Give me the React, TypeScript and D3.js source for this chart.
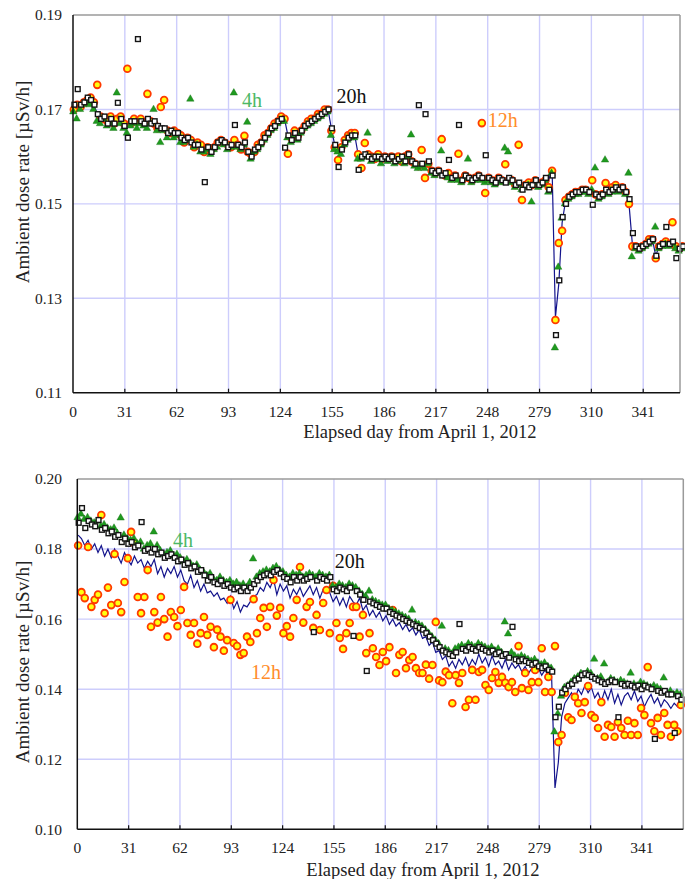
import React from "react";
import * as d3 from "d3";

// Values in nSv/h (divide by 1000 for µSv/h); one value every DAY_STEP days from day 0
const DAY_STEP = 2;
const TICK_DAYS = [0, 31, 62, 93, 124, 155, 186, 217, 248, 279, 310, 341];
const TOP_Y_TICKS = [0.11, 0.13, 0.15, 0.17, 0.19];
const BOT_Y_TICKS = [0.1, 0.12, 0.14, 0.16, 0.18, 0.2];

const topLine = [
  170.5, 171, 170.5, 171.5, 172, 172, 171, 169, 168, 168.5,
  167.5, 168, 167, 168.5, 168, 167, 166, 167.5, 168, 167,
  168, 167.5, 168, 167, 167.5, 166.5, 166, 166.5, 165, 165.5,
  165, 165.5, 164, 163.5, 164, 163, 162.5, 163, 162, 161.5,
  162, 161, 162, 163, 163.5, 163, 162, 162.5, 163, 162.5,
  162, 163, 161, 160, 161.5, 162, 163, 164, 165, 166,
  166.5, 167.5, 168, 168, 164.5, 163.5, 165, 164, 165.5, 166.5,
  167, 167.5, 168, 168.5, 169, 169.5, 170, 166, 162.5, 162,
  161.5, 163, 164, 164.5, 164.5, 160.5, 160, 160.5, 160, 159.5,
  160, 160, 159.5, 160, 159.5, 160, 159, 159.5, 160, 159,
  160.5, 159, 158.5, 158, 158.5, 158, 159, 157, 156.5, 157,
  156, 156.5, 156, 155.5, 156, 155.5, 155, 156, 155.5, 155,
  155.5, 156, 155.5, 155, 155.5, 155, 154.5, 155.5, 155, 154.5,
  155.5, 155, 154, 154.5, 153.5, 154, 154.5, 154, 155, 154,
  154.5, 155.5, 155, 157.5, 126, 133, 146, 150.5, 151.5, 152,
  152.5, 152.5, 153, 153, 152.5, 153, 152, 151.5, 152, 153,
  152.5, 153, 153.5, 153, 153.5, 152.5, 150, 141.5, 141, 140.5,
  141, 141.5, 142, 142.5, 139, 141, 141.5, 142, 141.5, 142,
  141, 140.5, 141,
];
const top4h = [
  169.5, 168, 170, 171, 171.5, 171, 170, 167.5, 167, 168,
  166.5, 167, 166, 173.5, 167, 166, 165, 166.5, 167, 166,
  167, 166.5, 166, 167, 170, 165.5, 163, 165.5, 164, 165,
  164, 164.5, 163, 163, 163.5, 172.2, 162, 162.5, 161, 161,
  161.5, 160.5, 161.5, 162, 163, 162.5, 161.5, 162, 173.5, 162,
  161.5, 162.5, 167.3, 159.5, 161, 161.5, 162.5, 163.5, 164.5, 165.5,
  166, 167, 167.5, 167.5, 164, 163, 164.5, 163.5, 165, 166,
  166.5, 167, 167.5, 168, 168.5, 169, 169.5, 164.5, 161.5, 161,
  160.5, 162.5, 163.5, 164, 164, 159.5, 159.5, 160, 165, 159,
  159.5, 159.5, 158.5, 159.5, 159, 159.5, 158.5, 159, 159.5, 158.5,
  160, 164.6, 158, 157.5, 158, 157.5, 158.5, 156.5, 156, 156.5,
  161.2, 156, 155.5, 155, 155.5, 155, 154.5, 155.5, 159.5, 154.5,
  155, 155.5, 155, 154.5, 155, 154.5, 154, 155, 154.5, 161.8,
  161, 154.5, 153.5, 154, 153, 153.5, 154, 150.4, 154.5, 153.5,
  154, 155, 152.5, 156.5, 119.5, 136.6, 147, 150, 151, 151.5,
  152, 152, 152.5, 152.5, 152, 153, 157.6, 151, 151.5, 159.3,
  152, 152.5, 153, 152.5, 153, 152, 156.5, 138.8, 140.5, 140,
  140.5, 141, 141.5, 142, 145.1, 140.5, 141, 141.5, 141, 141.5,
  140.5, 140, 140.5,
];
const top12h = [
  170, 171, 170.5, 171.5, 172, 172.5, 171.5, 175.2, 168.5, 168,
  167.5, 168.5, 167, 168, 168.5, 167, 178.6, 167, 168, 167.5,
  168, 167, 173.3, 167.5, 167, 166, 170.5, 172, 165.5, 165,
  165.5, 165, 164.5, 163, 164, 163.5, 162, 163, 162.5, 161,
  162, 161.5, 162, 163, 163.5, 163, 162.5, 162, 163.5, 162.5,
  161.5, 164.4, 161, 160.5, 161, 162.5, 163, 164.5, 165, 166,
  167, 167.5, 168.5, 168, 160.6, 164, 165.5, 164.5, 165.5, 166.5,
  167.5, 168, 168, 169, 169, 170, 170, 165.5, 162, 159.3,
  162, 163.5, 164.5, 165, 165, 160.5, 157.6, 162.9, 160.5, 160,
  159.5, 160.5, 159.5, 160, 159.5, 160, 159.5, 160, 159, 160,
  160.5, 159, 158.5, 158, 161.4, 155.5, 158.5, 157, 156.5, 157,
  163.7, 156, 156.5, 155.5, 156, 160.6, 155, 156, 155.5, 155,
  155.5, 156, 167.1, 152.3, 155.5, 155, 154.5, 155.5, 155, 158.4,
  155, 155, 154, 162.5, 150.8, 154, 154.5, 154, 155, 154,
  154.5, 155, 153.5, 157, 125.4, 141.7, 144.3, 150.8, 151.5, 152,
  152.5, 152.5, 153, 153, 152.5, 155, 152, 151.5, 152, 154.4,
  152.5, 153.5, 154, 153, 153.5, 152.5, 150, 141, 141, 140.5,
  141, 141.5, 142.5, 142.5, 138.5, 141, 141.5, 142, 141.5, 146.1,
  141, 140.5, 141,
];
const top20h = [
  171, 174.3, 171, 171.5, 172.5, 172, 171, 169, 168, 168.5,
  167, 168, 167, 171.4, 168, 166.5, 164, 167.5, 167.5, 184.9,
  167.5, 167, 168, 167, 167.5, 166.5, 166, 166, 165, 165.5,
  165, 165, 164, 163.5, 164, 163, 162.5, 162.5, 161.5, 154.6,
  162, 161, 162, 163, 163.5, 163, 162, 162.5, 166.7, 162.5,
  162, 163, 161, 160, 161.5, 162, 163, 164, 165, 166,
  166.5, 167.5, 168, 161.9, 164.5, 163.5, 165, 164, 165.5, 166.5,
  167, 167.5, 168, 168.5, 169, 169.5, 170, 166, 162.5, 157.8,
  161.5, 163, 164, 164.5, 164.5, 157.2, 160, 160.5, 160, 159.5,
  160, 160, 159.5, 160, 159.5, 160, 159, 159.5, 160, 159,
  160.5, 159, 158.5, 170.9, 158.5, 169, 159, 157, 156.5, 157,
  156, 156.5, 159.3, 155.5, 156, 166.7, 155, 156, 155.5, 155,
  155.5, 156, 155.5, 160.3, 155.5, 155, 154.5, 155.5, 155, 154.5,
  155.5, 155, 154, 154.5, 153, 154, 153.5, 154, 155, 154,
  154.5, 155.5, 153, 156, 122.2, 133.8, 147.2, 150, 151.5, 152,
  152.5, 152.5, 153, 153, 152.5, 149.8, 152, 151.5, 152, 153,
  152.5, 153, 153.5, 153, 153.5, 152.5, 151, 143.8, 141, 140.5,
  141, 141.5, 142, 142.5, 139, 141, 141.5, 145.1, 141.5, 142,
  138.5, 140.5, 141,
];

const botLine = [
  184, 183, 181, 182.5, 180, 181.5, 179, 181, 178, 180,
  177.5, 180, 178, 176, 179, 177, 175.5, 178, 176, 177,
  174.5, 176.5, 175, 177, 173, 175, 172, 174.5, 173, 175,
  172, 174, 171, 170, 172.5, 169, 171, 168, 170, 167.5,
  168, 166.5, 167.5, 165.5, 166, 164.5, 166.5, 163, 165, 162,
  164, 163.5, 165, 166.5, 167, 169, 168, 170.5, 169, 171.5,
  167, 170, 168, 169.5, 166, 168.5, 167, 169, 166.5, 168,
  169.5, 167, 169, 166, 168.5, 169, 167.5, 165, 166.5, 164,
  166, 163.5, 166.5, 165, 164, 166, 162.5, 164, 161, 162.5,
  160.5, 162, 159.5, 161, 158.5, 160, 158, 159, 157, 158.5,
  156.5, 157.5, 155.5, 157, 154.5, 155, 152.5, 153.5, 150.5, 151,
  148.5, 149.5, 146.5, 148, 146, 148.5, 147, 149, 146.5, 148.5,
  147, 150, 147.5, 149, 146.5, 149.5, 147, 148, 146, 148.5,
  145.5, 147.5, 146, 147, 145, 146.5, 144.5, 146, 145, 146,
  144, 145.5, 144, 143, 111.8, 119, 132, 136, 137.5, 139,
  137, 140, 138.5, 141, 139, 140.5, 137.5, 139, 136.5, 139.5,
  137, 140, 136, 138.5, 135.5, 138, 139, 137, 139.5, 136.5,
  138, 135, 137, 138.5, 136, 137.5, 135, 137, 136, 134.5,
  136, 135, 136.5,
];
const bot4h = [
  189, 190, 188.5, 189, 188, 187.5, 188, 186.5, 187, 186,
  185.5, 186, 184.5, 188.9, 184, 183, 182.5, 183, 181.5, 182,
  180, 181, 181.5, 184.9, 181, 179.5, 178.5, 179, 179.5, 178,
  178.5, 177.5, 176.5, 177, 176, 175, 175.5, 174, 173.5, 172.5,
  173, 171.5, 171, 172, 171, 170.5, 171, 170, 170.5, 169.5,
  170, 169, 170.5, 177.2, 172, 173, 173.5, 174, 173.5, 174.5,
  175, 174, 173.5, 172.5, 172, 173, 172.5, 173, 172, 172.5,
  173, 172.5, 172, 173, 172.5, 172, 172.5, 169.5, 169, 170,
  169.5, 169, 170, 169.5, 169, 168, 167, 166.5, 168, 165.5,
  165, 164.5, 164, 164, 163, 162.5, 162, 161.5, 161, 160.5,
  160, 162.6, 159, 158.5, 158, 157, 156, 155, 154, 153,
  158, 151.5, 151, 150, 151.5, 152, 152.5, 152, 153, 152.5,
  152, 153, 152.5, 152, 151.5, 152, 151, 151.5, 150.5, 159.2,
  155.8, 150.5, 149.5, 149, 149.5, 149, 148.5, 148, 148.5, 147.5,
  147, 147.5, 146.5, 146, 127.8, 133, 138, 140.5, 141, 142,
  143, 143.5, 144.5, 144, 145, 144.5, 148.6, 143, 143.5, 147.2,
  142, 143, 142.5, 142, 142.5, 142, 141.5, 144.6, 141.5, 141,
  142, 141.5, 141, 140.5, 141, 140.5, 140, 143.2, 139, 139.5,
  138.5, 139, 138.5,
];
const bot12h = [
  181, 167.7, 166, 180.6, 163.5, 165.5, 167, 189.7, 161.7, 169,
  164, 178.6, 164.6, 162, 170.6, 177.4, 184.9, 181.7, 166.3, 161.7,
  166.3, 174, 157.8, 162, 159, 166.3, 160, 155, 162, 160.6,
  158, 162.6, 169.2, 158.9, 155.5, 158.9, 153, 156, 160.6, 155.5,
  157.8, 152, 157, 155, 151, 154, 165.5, 153.2, 152.3, 149.8,
  150.3, 155, 153.5, 165.7, 156, 160.3, 163.2, 157.8, 163.5, 171.2,
  161, 163.2, 156, 158, 155, 160.3, 165.5, 174.9, 159, 163.5,
  164.9, 157.5, 161.2, 156.9, 164.6, 168.3, 156, 169.5, 158.9, 154.6,
  151.5, 156, 158.9, 163.5, 163.5, 155, 161.2, 150.3, 156, 151.7,
  149.2, 146.9, 150.6, 148, 152, 162.6, 144.6, 149.8, 150.6, 146,
  148.3, 149.2, 146, 144.6, 144.6, 147, 143, 146.9, 159.2, 142.5,
  142, 145, 144, 136, 144, 141.8, 144.6, 134.9, 137, 145.5,
  137, 144.9, 145.5, 141.2, 139.8, 143.2, 144.9, 141.8, 143.5, 141.8,
  140.6, 142, 139.2, 152.3, 140.3, 144.6, 139.8, 142, 145.5, 142,
  151.7, 139.2, 143.5, 139.2, 152.3, 124.9, 126.9, 138.9, 132, 131.2,
  137.8, 136, 133.2, 136.3, 140.9, 132.6, 131.8, 128.9, 136.3, 126.4,
  129.8, 129.2, 126.4, 130.6, 128.9, 126.9, 131, 126.9, 130.3, 126.9,
  134.6, 132.6, 146.3, 130.3, 128, 131.8, 126.9, 133.2, 129.8, 126.4,
  129.8, 128, 135.5,
];
const bot20h = [
  187.5, 191.7, 186, 188, 187, 186.5, 188.3, 185.5, 186, 184.5,
  185, 183.5, 184, 182, 183, 181.5, 182, 180.5, 181, 187.7,
  179.5, 180, 179, 180, 178.5, 179, 177.5, 178, 178.5, 177.5,
  176.5, 177, 175.5, 176, 174.5, 175, 173.5, 174, 172.5, 171,
  172, 170.5, 170, 171, 169.5, 170, 169, 168.5, 169, 168,
  169, 168, 169, 170, 171, 172, 172.5, 173, 172.5, 173.5,
  174, 173, 172, 171.5, 170.5, 172, 171, 172, 171, 171.5,
  172, 156.3, 171, 172, 171.5, 171, 172, 168.5, 168, 169,
  168.5, 168, 169, 155.2, 168, 167, 165.5, 145.2, 165, 164.5,
  164, 163.5, 163, 163, 162, 161.5, 161, 160.5, 160, 159.5,
  159, 158.5, 158, 157.5, 157, 156, 155, 154, 153, 152,
  151, 150.5, 150, 149.5, 150.5, 158.6, 151.5, 151, 152, 151.5,
  151, 152, 151.5, 151, 150.5, 151, 150, 150.5, 149.5, 150,
  149, 157.8, 148.5, 148, 148.5, 148, 147.5, 147, 147.5, 146.5,
  146, 146.5, 145.5, 145, 132, 135, 139, 140, 141, 141.5,
  142.5, 143, 144, 144.5, 144, 143.5, 143, 142.5, 142, 141.5,
  142, 142.5, 142, 132, 141.5, 141, 141.5, 141, 140.5, 141,
  140, 141, 140.5, 140, 125.8, 139.5, 139, 139.5, 138.5, 138.5,
  127.5, 138, 137,
];

const FONT = "Liberation Serif, DejaVu Serif, Times New Roman, serif";
const fmt = d3.format(".2f");

type Ann = { text: string; day: number; value: number; color: string };

type PanelProps = {
  left: number; right: number; top: number; bottom: number;
  xMax: number; yDomain: [number, number]; yTicks: number[];
  line: number[]; s4: number[]; s12: number[]; s20: number[];
  anns: Ann[]; yTitleCenter: number; xTitleY: number; xTitleX: number;
};

function Panel(p: PanelProps) {
  const x = d3.scaleLinear().domain([0, p.xMax]).range([p.left, p.right]);
  const y = d3.scaleLinear().domain(p.yDomain).range([p.bottom, p.top]);
  const v = (n: number) => n / 1000;
  const lineGen = d3
    .line<number>()
    .x((_, i) => x(i * DAY_STEP + 0.5))
    .y((d) => y(v(d)));
  const tri = d3.symbol(d3.symbolTriangle, 24)() as string;
  const grid = "#cdcdfc";
  const txt = { fontFamily: FONT };
  return (
    <g>
      {TICK_DAYS.filter((d) => d > 0).map((d) => (
        <line key={"gx" + d} x1={x(d)} x2={x(d)} y1={p.top} y2={p.bottom} stroke={grid} strokeWidth={1.4} />
      ))}
      {p.yTicks.slice(1, -1).map((t) => (
        <line key={"gy" + t} x1={p.left} x2={p.right} y1={y(t)} y2={y(t)} stroke={grid} strokeWidth={1.4} />
      ))}
      <path d={lineGen(p.line) || ""} fill="none" stroke="#14148c" strokeWidth={1.2} />
      {p.s12.map((d, i) => (
        <circle key={"c" + i} cx={x(i * DAY_STEP + 0.5)} cy={y(v(d))} r={3.4} fill="#ffff10" stroke="#ff3a00" strokeWidth={1.8} />
      ))}
      {p.s4.map((d, i) => (
        <path key={"t" + i} d={tri} transform={`translate(${x(i * DAY_STEP + 0.17)},${y(v(d))})`} fill="#1f9a1f" stroke="#127012" strokeWidth={0.4} />
      ))}
      {p.s20.map((d, i) => (
        <rect key={"s" + i} x={x(i * DAY_STEP + 0.83) - 2.4} y={y(v(d)) - 2.4} width={4.8} height={4.8} fill="#ffffff" stroke="#141414" strokeWidth={1.4} />
      ))}
      <line x1={p.left} x2={p.right} y1={p.top} y2={p.top} stroke="#9a9a9a" strokeWidth={1.5} />
      <line x1={p.right} x2={p.right} y1={p.top} y2={p.bottom} stroke="#9a9a9a" strokeWidth={1.5} />
      <line x1={p.left} x2={p.left} y1={p.top} y2={p.bottom} stroke="#111" strokeWidth={1.5} />
      <line x1={p.left} x2={p.right} y1={p.bottom} y2={p.bottom} stroke="#111" strokeWidth={1.5} />
      {TICK_DAYS.filter((d) => d > 0).map((d) => (
        <line key={"tk" + d} x1={x(d)} x2={x(d)} y1={p.bottom} y2={p.bottom - 4} stroke="#111" strokeWidth={1.2} />
      ))}
      {TICK_DAYS.map((d) => (
        <text key={"xl" + d} x={x(d)} y={p.bottom + 24} textAnchor="middle" style={txt} fontSize={15.5} fill="#222">
          {d}
        </text>
      ))}
      {p.yTicks.map((t) => (
        <text key={"yl" + t} x={62} y={y(t)} dy="0.35em" textAnchor="end" style={txt} fontSize={15.5} fill="#222">
          {fmt(t)}
        </text>
      ))}
      <text x={p.xTitleX} y={p.xTitleY} textAnchor="middle" style={txt} fontSize={18.5} fill="#222">
        Elapsed day from April 1, 2012
      </text>
      <text transform={`translate(22,${p.yTitleCenter}) rotate(-90)`} textAnchor="middle" dy="0.35em" style={txt} fontSize={19} fill="#222">
        Ambient dose rate [µSv/h]
      </text>
      {p.anns.map((a) => (
        <text key={a.text} x={x(a.day)} y={y(a.value)} dy="0.35em" textAnchor="middle" style={txt} fontSize={20} fill={a.color}>
          {a.text}
        </text>
      ))}
    </g>
  );
}

const topAnns: Ann[] = [
  { text: "4h", day: 107, value: 0.172, color: "#4cb866" },
  { text: "20h", day: 166.5, value: 0.1729, color: "#111" },
  { text: "12h", day: 257, value: 0.1678, color: "#ff8c2a" },
];
const botAnns: Ann[] = [
  { text: "4h", day: 63.8, value: 0.1826, color: "#4cb866" },
  { text: "20h", day: 164.6, value: 0.1766, color: "#111" },
  { text: "12h", day: 113.9, value: 0.1448, color: "#ff8c2a" },
];

export default function App() {
  return (
    <svg width={685} height={879} style={{ position: "absolute", left: 0, top: 0, background: "#fff" }}>
      <rect x={0} y={0} width={685} height={879} fill="#fff" />
      <Panel
        left={73} right={680} top={15} bottom={392.7}
        xMax={363} yDomain={[0.11, 0.19]} yTicks={TOP_Y_TICKS}
        line={topLine} s4={top4h} s12={top12h} s20={top20h}
        anns={topAnns} yTitleCenter={182} xTitleY={438} xTitleX={420}
      />
      <Panel
        left={77.3} right={683.3} top={479} bottom={829.3}
        xMax={366} yDomain={[0.1, 0.2]} yTicks={BOT_Y_TICKS}
        line={botLine} s4={bot4h} s12={bot12h} s20={bot20h}
        anns={botAnns} yTitleCenter={662} xTitleY={876} xTitleX={423}
      />
    </svg>
  );
}
